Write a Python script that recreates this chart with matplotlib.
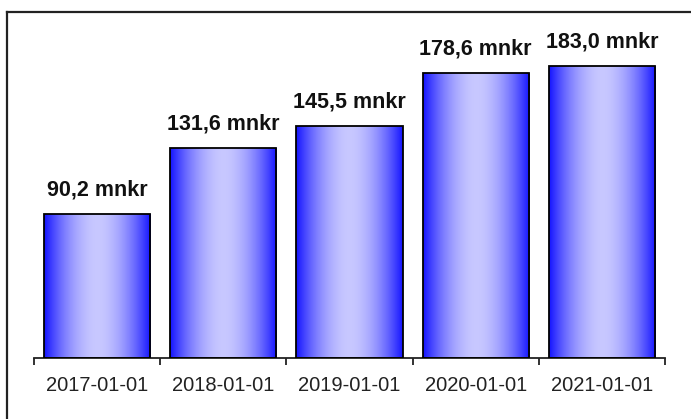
import numpy as np
import matplotlib
matplotlib.use("Agg")
import matplotlib.pyplot as plt
from matplotlib.lines import Line2D
from matplotlib.patches import Rectangle

categories = ["2017-01-01", "2018-01-01", "2019-01-01", "2020-01-01", "2021-01-01"]
values = [90.2, 131.6, 145.5, 178.6, 183.0]
unit = "mnkr"

plt.rcParams['font.family'] = ['Liberation Sans', 'DejaVu Sans']

W, H = 691, 419
fig = plt.figure(figsize=(W / 100, H / 100), dpi=100)
fig.patch.set_facecolor("white")

# axes placement (pixels)
left_px, right_px = 34, 665
base_px, top_px = 357.5, 38.6
ax = fig.add_axes([left_px / W, 1 - base_px / H, (right_px - left_px) / W, (base_px - top_px) / H])
ax.set_xlim(-0.5, len(categories) - 0.5)
ax.set_ylim(0, 200)

x = np.arange(len(categories))
bars = ax.bar(x, values, width=0.84, facecolor="none", edgecolor="black", linewidth=1.3, zorder=3)

# horizontal gradient fill
t = np.linspace(0, 1, 256)
f = 1 - np.abs(2 * t - 1) ** 1.8
blue = np.array([20, 20, 255]) / 255
light = np.array([200, 200, 255]) / 255
grad = blue[None, :] + (light - blue)[None, :] * f[:, None]
img = grad[None, :, :]
for b in bars:
    x0, y0 = b.get_x(), b.get_y()
    w, h = b.get_width(), b.get_height()
    im = ax.imshow(img, extent=[x0, x0 + w, y0, y0 + h], aspect='auto', zorder=2, interpolation='bilinear')
    clip = Rectangle((x0, y0), w, h, transform=ax.transData)
    im.set_clip_path(clip)

for xi, v in zip(x, values):
    ax.annotate(f"{v:.1f}".replace(".", ",") + " " + unit, (xi, v), xytext=(0, 9.5),
                textcoords="offset points", ha="center", va="bottom",
                fontsize=15.5, fontweight="bold", color="#111111")

for s in ["left", "right", "top"]:
    ax.spines[s].set_visible(False)
ax.spines["bottom"].set_linewidth(1.3)
ax.spines["bottom"].set_color("#222222")
ax.set_yticks([])
ax.set_xticks(x)
ax.set_xticklabels(categories, fontsize=14.5, color="#222222")
ax.tick_params(axis="x", which="major", length=0, pad=13)
ax.set_xticks(np.arange(-0.5, len(categories)), minor=True)
ax.tick_params(axis="x", which="minor", length=5, width=1.3, color="#222222")

# partial frame (left and top only)
fig.add_artist(Line2D([7 / W, 7 / W], [0, 1 - 12 / H], transform=fig.transFigure, color="#222222", linewidth=1.6))
fig.add_artist(Line2D([7 / W, 1], [1 - 12 / H, 1 - 12 / H], transform=fig.transFigure, color="#222222", linewidth=1.6))

fig.savefig("out.png", dpi=100, facecolor="white")
